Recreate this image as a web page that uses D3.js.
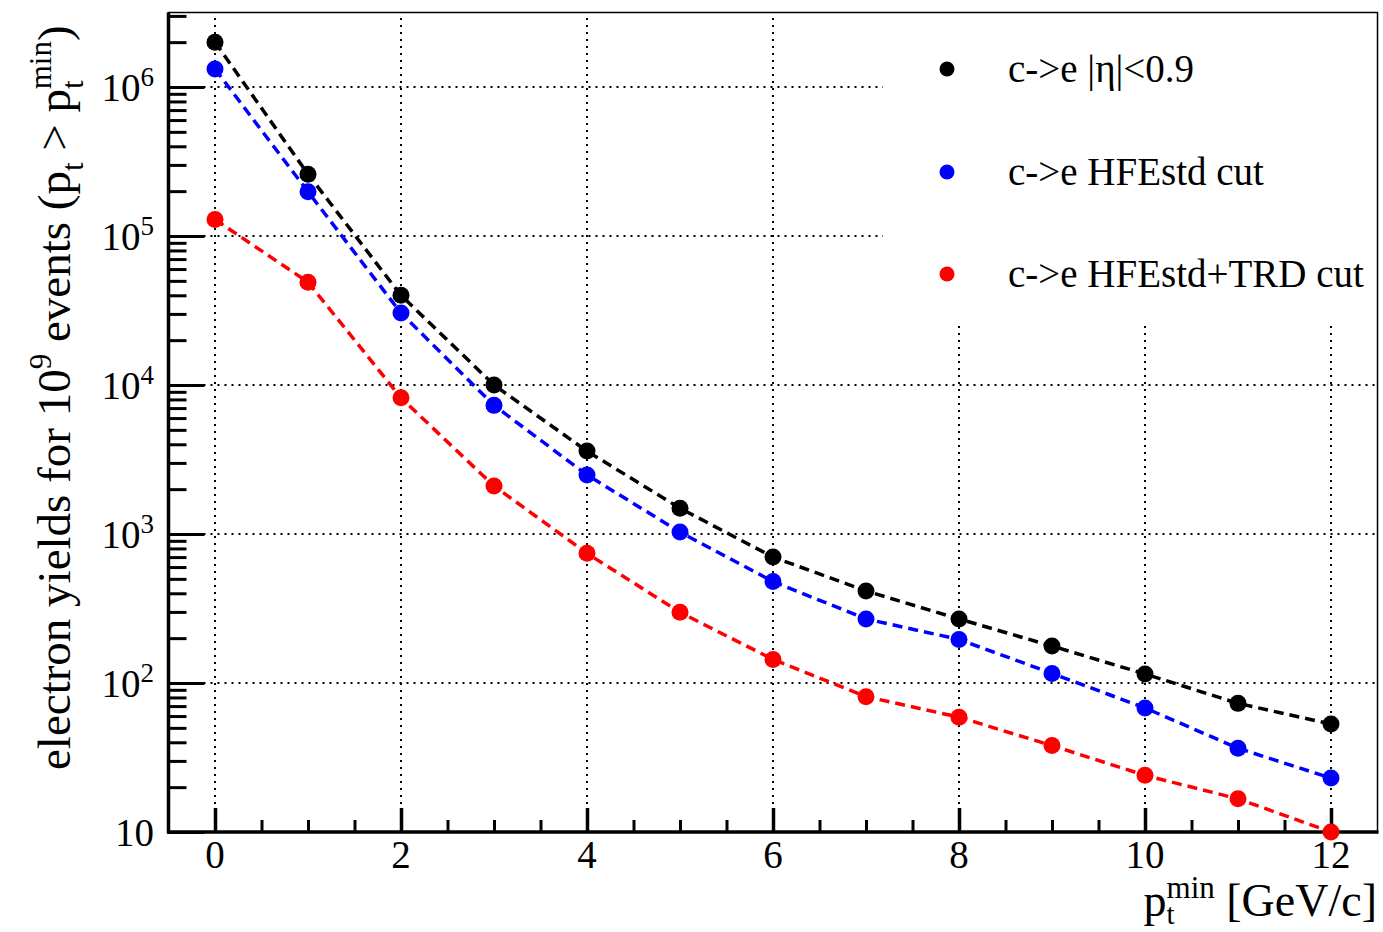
<!DOCTYPE html>
<html>
<head>
<meta charset="utf-8">
<title>electron yields</title>
<script src="https://d3js.org/d3.v7.min.js"></script>
<style>
  body { margin: 0; background: #fff; }
  svg text { font-family: "Liberation Serif", "Times New Roman", serif; fill: #000; }
</style>
</head>
<body>
<div id="chart"></div>
<script>
// pt min values (GeV/c)
const ptMin = [0, 1, 2, 3, 4, 5, 6, 7, 8, 9, 10, 11, 12];

// yields for 10^9 events
const yieldEta = [2.0e6, 2.6e5, 4.0e4, 1.0e4, 3.6e3, 1.49e3, 700, 415, 269, 177, 115, 73, 53];
const yieldStd = [1.32e6, 1.98e5, 3.04e4, 7.3e3, 2.49e3, 1.03e3, 480, 269, 196, 116, 68, 36.5, 23];
const yieldTrd = [1.29e5, 4.9e4, 8.2e3, 2.1e3, 742, 298, 144, 81, 59, 38, 24, 16.7, 10];

const seriesNames = ["c->e |η|<0.9", "c->e HFEstd cut", "c->e HFEstd+TRD cut"];
const seriesColors = ["#000000", "#0000ff", "#ff0000"];
const seriesValues = [yieldEta, yieldStd, yieldTrd];

const xTicksMajor = [0, 2, 4, 6, 8, 10, 12];
const yDecades = [10, 1e2, 1e3, 1e4, 1e5, 1e6];

const W = 1383, H = 932;
const padL = 168.5, padR = 1377.5, padT = 12.5, padB = 832;

const svg = d3.select("#chart").append("svg")
    .attr("width", W).attr("height", H);

const x = d3.scaleLinear().domain([-0.5, 12.5]).range([padL, padR]);
const y = d3.scaleLog().domain([10, Math.pow(10, 6.5)]).range([padB, padT]);

// grid
const grid = svg.append("g").attr("stroke", "#000").attr("stroke-width", 2)
    .attr("stroke-dasharray", "2,5");
grid.selectAll("line.v").data(xTicksMajor).enter().append("line")
    .attr("x1", d => x(d)).attr("x2", d => x(d))
    .attr("y1", padB).attr("y2", padT);
grid.selectAll("line.h").data(yDecades.slice(1)).enter().append("line")
    .attr("x1", padL).attr("x2", padR)
    .attr("y1", d => y(d)).attr("y2", d => y(d));

// legend background hides the grid
svg.append("rect").attr("x", 883).attr("y", 15).attr("width", 494).attr("height", 307)
    .attr("fill", "#fff");

// lines
const line = d3.line().x((d, i) => x(ptMin[i])).y(d => y(d));
seriesValues.forEach(function(vals, k) {
  svg.append("path").datum(vals)
    .attr("d", line)
    .attr("fill", "none")
    .attr("stroke", seriesColors[k])
    .attr("stroke-width", 3.5)
    .attr("stroke-dasharray", "10,6");
});

// frame
svg.append("rect").attr("x", padL).attr("y", padT)
    .attr("width", padR - padL).attr("height", padB - padT)
    .attr("fill", "none").attr("stroke", "#000").attr("stroke-width", 1.5);
svg.append("line").attr("x1", padL).attr("x2", padL).attr("y1", padT).attr("y2", padB + 1.5)
    .attr("stroke", "#000").attr("stroke-width", 3.5);
svg.append("line").attr("x1", padL - 1.5).attr("x2", padR + 1).attr("y1", padB).attr("y2", padB)
    .attr("stroke", "#000").attr("stroke-width", 3.5);

// y axis ticks
const yMinor = [];
for (let e = 1; e <= 6; e++) {
  for (let m = 2; m <= 9; m++) {
    const v = m * Math.pow(10, e);
    if (v <= Math.pow(10, 6.5)) yMinor.push(v);
  }
}
const yAxisMajor = d3.axisLeft(y).tickValues(yDecades).tickSize(-36).tickFormat("");
const yAxisMinor = d3.axisLeft(y).tickValues(yMinor).tickSize(-18).tickFormat("");
svg.append("g").attr("transform", "translate(" + padL + ",0)").call(yAxisMinor)
    .call(g => g.select(".domain").remove())
    .selectAll("line").attr("stroke-width", 3);
svg.append("g").attr("transform", "translate(" + padL + ",0)").call(yAxisMajor)
    .call(g => g.select(".domain").remove())
    .selectAll("line").attr("stroke-width", 3);

// y tick labels 10, 10^2 ...
const yLab = svg.append("g").selectAll("text").data(yDecades).enter().append("text")
    .attr("x", 154).attr("y", d => y(d) + 14)
    .attr("text-anchor", "end")
    .style("font-size", "39px");
yLab.each(function(d) {
  const e = Math.round(Math.log10(d));
  const t = d3.select(this);
  if (e === 1) { t.text("10"); return; }
  t.append("tspan").text("10");
  t.append("tspan").text(e).style("font-size", "27px").attr("dy", -15);
});

// x axis ticks
const xMinor = d3.range(0.5, 12.01, 0.5).filter(v => xTicksMajor.indexOf(v) < 0);
const xAxisMajor = d3.axisBottom(x).tickValues(xTicksMajor).tickSize(-24).tickFormat("");
const xAxisMinor = d3.axisBottom(x).tickValues(xMinor).tickSize(-12).tickFormat("");
svg.append("g").attr("transform", "translate(0," + padB + ")").call(xAxisMinor)
    .call(g => g.select(".domain").remove())
    .selectAll("line").attr("stroke-width", 3);
svg.append("g").attr("transform", "translate(0," + padB + ")").call(xAxisMajor)
    .call(g => g.select(".domain").remove())
    .selectAll("line").attr("stroke-width", 3.5);
svg.append("g").selectAll("text").data(xTicksMajor).enter().append("text")
    .attr("x", d => x(d)).attr("y", 868)
    .attr("text-anchor", "middle")
    .style("font-size", "39px")
    .text(d => d);

// markers
seriesValues.forEach(function(vals, k) {
  svg.append("g").selectAll("circle").data(vals).enter().append("circle")
    .attr("cx", (d, i) => x(ptMin[i]))
    .attr("cy", d => y(d))
    .attr("r", 8.5)
    .attr("fill", seriesColors[k]);
});

// axis titles
const xt = svg.append("text").attr("x", 1377).attr("y", 916)
    .attr("text-anchor", "end").style("font-size", "46px");
xt.append("tspan").text("p");
xt.append("tspan").text("t").style("font-size", "29px").attr("dy", 8);
xt.append("tspan").text("min").style("font-size", "31px").attr("dx", -8).attr("dy", -26);
xt.append("tspan").text(" [GeV/c]").attr("dy", 18);

const yt = svg.append("text").attr("transform", "translate(70,770) rotate(-90)")
    .attr("text-anchor", "start").style("font-size", "47px");
yt.append("tspan").text("electron yields for 10");
yt.append("tspan").text("9").style("font-size", "31px").attr("dy", -19);
yt.append("tspan").text(" events (p").attr("dy", 19);
yt.append("tspan").text("t").style("font-size", "31px").attr("dy", 13);
yt.append("tspan").text(" > p").attr("dy", -13);
yt.append("tspan").text("t").style("font-size", "31px").attr("dy", 13);
yt.append("tspan").text("min").style("font-size", "31px").attr("dx", -9).attr("dy", -32);
yt.append("tspan").text(")").attr("dy", 19);

// legend
const legendY = [69, 172, 274];
const leg = svg.append("g").selectAll("g").data(seriesNames).enter().append("g");
leg.append("circle").attr("cx", 947).attr("cy", (d, i) => legendY[i]).attr("r", 7.5)
    .attr("fill", (d, i) => seriesColors[i]);
leg.append("text").attr("x", 1008).attr("y", (d, i) => legendY[i] + 13)
    .style("font-size", "39px").text(d => d);
</script>
</body>
</html>
